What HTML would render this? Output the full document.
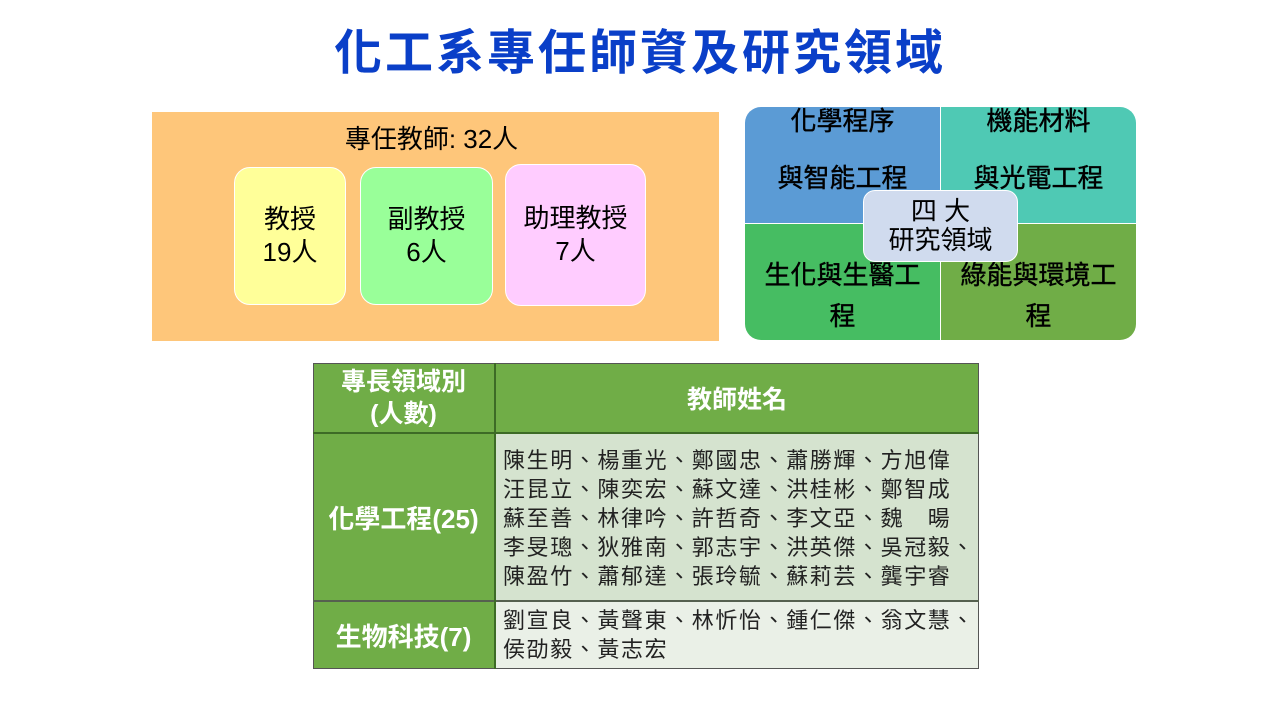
<!DOCTYPE html>
<html><head><meta charset="utf-8"><style>
*{margin:0;padding:0;box-sizing:border-box}
body{width:1280px;height:720px;background:#fff;position:relative;overflow:hidden;font-family:"Liberation Sans","Noto Sans CJK TC",sans-serif;color:#000}
.a{position:absolute}
.c{display:flex;align-items:center;justify-content:center;text-align:center}
.q{position:absolute;color:#000;font-size:26px;line-height:56px;text-align:center;-webkit-text-stroke:0.4px #000}
.nm{position:absolute;left:503px;font-size:22px;line-height:29px;white-space:nowrap;letter-spacing:1.6px;color:#222}
</style></head><body>
<div class="a c" style="left:0;top:16px;width:1280px;height:64px;font-size:48px;font-weight:bold;color:#0a3fc8;letter-spacing:3px">化工系專任師資及研究領域</div>

<div class="a" style="left:152px;top:112px;width:567px;height:229px;background:#fec67a"></div>
<div class="a c" style="left:148px;top:119px;width:567px;height:36px;font-size:26px">專任教師: 32人</div>
<div class="a c" style="left:234px;top:167px;width:112px;height:138px;background:#ffff99;border:1px solid #fff;border-radius:16px;font-size:26px;line-height:33px">教授<br>19人</div>
<div class="a c" style="left:360px;top:167px;width:133px;height:138px;background:#99ff99;border:1px solid #fff;border-radius:16px;font-size:26px;line-height:33px">副教授<br>6人</div>
<div class="a c" style="left:505px;top:164px;width:141px;height:142px;background:#ffccff;border:1px solid #fff;border-radius:16px;font-size:26px;line-height:33px">助理教授<br>7人</div>

<div class="a" style="left:745px;top:107px;width:391px;height:233px;border-radius:16px;overflow:hidden">
<div class="a" style="left:0;top:0;width:195px;height:116px;background:#5b9bd5"></div>
<div class="a" style="left:196px;top:0;width:195px;height:116px;background:#4fc9b4"></div>
<div class="a" style="left:0;top:117px;width:195px;height:116px;background:#46bd62"></div>
<div class="a" style="left:196px;top:117px;width:195px;height:116px;background:#70ad47"></div>
</div>
<div class="q" style="left:745px;top:93px;width:195px">化學程序</div>
<div class="q" style="left:745px;top:150px;width:195px">與智能工程</div>
<div class="q" style="left:941px;top:93px;width:195px">機能材料</div>
<div class="q" style="left:941px;top:150px;width:195px">與光電工程</div>
<div class="q" style="left:745px;top:247px;width:195px">生化與生醫工</div>
<div class="q" style="left:745px;top:288px;width:195px">程</div>
<div class="q" style="left:941px;top:247px;width:195px">綠能與環境工</div>
<div class="q" style="left:941px;top:288px;width:195px">程</div>
<div class="a c" style="left:863px;top:190px;width:155px;height:72px;background:#d0dbee;border:1px solid #fff;border-radius:12px;font-size:26px;line-height:29px">四 大<br>研究領域</div>

<div class="a" style="left:313px;top:363px;width:666px;height:306px;border:1px solid #555;background:#70ad47"></div>
<div class="a" style="left:495px;top:433px;width:483px;height:167px;background:#d5e3cf"></div>
<div class="a" style="left:495px;top:601px;width:483px;height:67px;background:#eaf0e7"></div>
<div class="a" style="left:313px;top:432px;width:666px;height:2px;background:#3d6b26"></div>
<div class="a" style="left:313px;top:600px;width:666px;height:2px;background:#55604f"></div>
<div class="a" style="left:494px;top:363px;width:2px;height:306px;background:#3d6b26"></div>
<div class="a c" style="left:313px;top:363px;width:181px;height:70px;color:#fff;font-weight:bold;font-size:25px;line-height:32px">專長領域別<br>(人數)</div>
<div class="a c" style="left:496px;top:363px;width:482px;height:70px;color:#fff;font-weight:bold;font-size:25px">教師姓名</div>
<div class="a c" style="left:313px;top:434px;width:181px;height:166px;color:#fff;font-weight:bold;font-size:26px">化學工程(25)</div>
<div class="a c" style="left:313px;top:602px;width:181px;height:66px;color:#fff;font-weight:bold;font-size:26px">生物科技(7)</div>
<div class="nm" style="top:446px">陳生明、楊重光、鄭國忠、蕭勝輝、方旭偉</div>
<div class="nm" style="top:475px">汪昆立、陳奕宏、蘇文達、洪桂彬、鄭智成</div>
<div class="nm" style="top:504px">蘇至善、林律吟、許哲奇、李文亞、魏　暘</div>
<div class="nm" style="top:533px">李旻璁、狄雅南、郭志宇、洪英傑、吳冠毅、</div>
<div class="nm" style="top:562px">陳盈竹、蕭郁達、張玲毓、蘇莉芸、龔宇睿</div>
<div class="nm" style="top:606px">劉宣良、黃聲東、林忻怡、鍾仁傑、翁文慧、</div>
<div class="nm" style="top:635px">侯劭毅、黃志宏</div>
</body></html>
